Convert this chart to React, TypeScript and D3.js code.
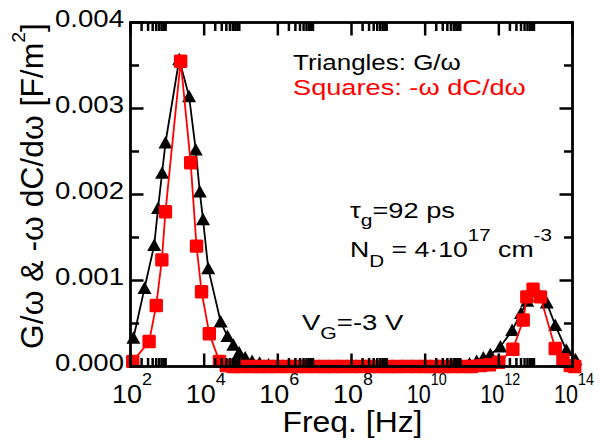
import React, { useRef, useState, useLayoutEffect } from "react";
import * as d3 from "d3";

// ---------- data ----------
// Triangles: G/ω  (frequency in Hz, value in F/m²)
const gFreq = [
  120, 240, 440, 560, 720, 890, 2100, 3900, 5900, 7600, 9300, 12900, 28000,
  43000, 62000, 89000, 1.3e5, 2.0e5, 3.2e5, 5.6e5, 1e6, 3e6, 1e7, 3e7, 1e8,
  3e8, 1e9, 3e9, 1e10, 3e10, 8e10, 1.6e11, 2.5e11, 3.8e11, 5.9e11, 1.1e12,
  2.3e12, 4e12, 5.9e12, 8.9e12, 1.3e13, 2e13, 3.4e13, 6.8e13, 1.2e14,
];
const gVal = [
  0.00033, 0.00091, 0.00141, 0.00184, 0.00225, 0.0026, 0.00357, 0.00314,
  0.00252, 0.00203, 0.00171, 0.00114, 0.00052, 0.00035, 0.00025, 0.00016,
  0.0001, 0.00006, 0.00004, 0.00002, 0.00001, 0, 0, 0, 0, 0, 0, 0, 0,
  0.00001, 0.00002, 0.00003, 0.00006, 0.0001, 0.00014, 0.00023, 0.00042,
  0.00062, 0.00076, 0.00088, 0.00082, 0.00074, 0.00048, 0.00019, 0.00008,
];

// Squares: -ω dC/dω
const cFreq = [
  115, 320, 500, 710, 890, 2300, 4300, 6200, 8500, 13800, 26000, 40000, 6e4,
  1e5, 1.8e5, 3.2e5, 5.6e5, 1e6, 1.8e6, 3.2e6, 5.6e6, 1e7, 1.8e7, 3.2e7,
  5.6e7, 1e8, 1.8e8, 3.2e8, 5.6e8, 1e9, 1.8e9, 3.2e9, 5.6e9, 1e10, 1.8e10,
  3.2e10, 5.6e10, 1e11, 1.8e11, 3.2e11, 5.6e11, 1e12, 2.4e12, 4.6e12,
  5.75e12, 8.5e12, 1.35e13, 3.4e13, 5.5e13, 8.7e13, 1.15e14,
];
const cVal = [
  0.00006, 0.00029, 0.00071, 0.00124, 0.0018, 0.00355, 0.00237, 0.0014,
  0.00087, 0.00038, 0.00006, 0.00001, 0, 0, 0, 0, 0, 0, 0, 0, 0, 0, 0, 0, 0,
  0, 0, 0, 0, 0, 0, 0, 0, 0, 0, 0, 0, 0, 0, 0.00001, 0.00002, 0.00005,
  0.0002, 0.00054, 0.00081, 0.0009, 0.00081, 0.00021, 0.00008, 0.00001, 0,
];

const xMajorExp = [2, 4, 6, 8, 10, 12, 14];
const yMajor = [0, 0.001, 0.002, 0.003, 0.004];
const yMajorLabels = ["0.000", "0.001", "0.002", "0.003", "0.004"];
const yMinor = [0.0005, 0.0015, 0.0025, 0.0035];

// ---------- layout ----------
const W = 600;
const H = 445;
const L = 130.5;
const R = 572.5;
const T = 22.5;
const B = 366.5;
const FONT = "'Liberation Sans', Arial, Helvetica, sans-serif";

function FitText({ x, y, rotate = 0, width, sx, anchor = "start", fontSize, fill = "#000", children }: any) {
  const ref = useRef<SVGTextElement>(null);
  const [s, setS] = useState(sx ?? 1);
  useLayoutEffect(() => {
    if (width && ref.current) {
      const w = ref.current.getBBox().width;
      if (w > 0) setS(width / w);
    }
  }, [width]);
  return (
    <g transform={`translate(${x},${y}) rotate(${rotate}) scale(${s},1)`}>
      <text ref={ref} textAnchor={anchor} fontSize={fontSize} fill={fill} fontFamily={FONT}>
        {children}
      </text>
    </g>
  );
}

export default function App() {
  const x = d3.scaleLog().domain([1e2, 1e14]).range([L, R]);
  const y = d3.scaleLinear().domain([0, 0.004]).range([B, T]);

  const gData = gFreq.map((f, i) => [f, gVal[i]] as [number, number]);
  const cData = cFreq.map((f, i) => [f, cVal[i]] as [number, number]);

  const line = d3
    .line<[number, number]>()
    .x((d) => x(d[0]))
    .y((d) => y(d[1]));

  const majorX = xMajorExp.map((e) => Math.pow(10, e));
  const minorX: number[] = [];
  majorX.slice(0, -1).forEach((m) => {
    for (let k = 2; k <= 9; k++) minorX.push(m * k);
  });

  const MAJ = 13;
  const MIN = 8.5;
  const tw = 2.5;

  const tri = (cx: number, cy: number) =>
    `M${cx},${cy - 6.8} L${cx + 7},${cy + 5.7} L${cx - 7},${cy + 5.7} Z`;

  return (
    <svg width={W} height={H} style={{ position: "absolute", left: 0, top: 0, background: "#fff" }}>
      <rect x={0} y={0} width={W} height={H} fill="#fff" />

      {/* Triangles series */}
      <path d={line(gData) || ""} fill="none" stroke="#000" strokeWidth={1.8} />
      {gData.map((d, i) => (
        <path key={"t" + i} d={tri(x(d[0]), y(d[1]))} fill="#000" />
      ))}

      {/* Squares series */}
      <path d={line(cData) || ""} fill="none" stroke="#ff0000" strokeWidth={1.8} />
      {cData.map((d, i) => (
        <rect
          key={"s" + i}
          x={x(d[0]) - 6.7}
          y={y(d[1]) - 6.7}
          width={13.4}
          height={13.4}
          rx={1.5}
          fill="#ff0000"
        />
      ))}

      {/* frame */}
      <rect x={L} y={T} width={R - L} height={B - T} fill="none" stroke="#000" strokeWidth={2.8} />

      {/* x ticks */}
      {majorX.map((v, i) => (
        <g key={"xm" + i} stroke="#000" strokeWidth={tw}>
          <line x1={x(v)} x2={x(v)} y1={B} y2={B - MAJ} />
          <line x1={x(v)} x2={x(v)} y1={T} y2={T + MAJ} />
        </g>
      ))}
      {minorX.map((v, i) => (
        <g key={"xn" + i} stroke="#000" strokeWidth={tw}>
          <line x1={x(v)} x2={x(v)} y1={B} y2={B - MIN} />
          <line x1={x(v)} x2={x(v)} y1={T} y2={T + MIN} />
        </g>
      ))}
      {/* y ticks */}
      {yMajor.map((v, i) => (
        <g key={"ym" + i} stroke="#000" strokeWidth={tw}>
          <line x1={L} x2={L + MAJ} y1={y(v)} y2={y(v)} />
          <line x1={R} x2={R - MAJ} y1={y(v)} y2={y(v)} />
        </g>
      ))}
      {yMinor.map((v, i) => (
        <g key={"yn" + i} stroke="#000" strokeWidth={tw}>
          <line x1={L} x2={L + MIN} y1={y(v)} y2={y(v)} />
          <line x1={R} x2={R - MIN} y1={y(v)} y2={y(v)} />
        </g>
      ))}

      {/* y tick labels */}
      {yMajor.map((v, i) => (
        <FitText key={"yl" + i} x={124} y={y(v) + 4.5} anchor="end" width={69} fontSize={23.5}>
          {yMajorLabels[i]}
        </FitText>
      ))}

      {/* x tick labels */}
      {xMajorExp.map((e, i) => (
        <FitText key={"xl" + i} x={x(Math.pow(10, e)) + 1.5} y={403} anchor="middle" width={40} fontSize={25.5}>
          10
          <tspan fontSize={17} dy={-18}>
            {e}
          </tspan>
        </FitText>
      ))}

      {/* axis titles */}
      <FitText x={352.5} y={431.5} anchor="middle" width={140} fontSize={29}>
        Freq. [Hz]
      </FitText>
      <FitText x={42.5} y={186} rotate={-90} anchor="middle" width={326} fontSize={31}>
        G/ω &amp; -ω dC/dω [F/m
        <tspan fontSize={19} dy={-18}>
          2
        </tspan>
        <tspan dy={18}>]</tspan>
      </FitText>

      {/* annotations */}
      <FitText x={293} y={70} width={168} fontSize={22}>
        Triangles: G/ω
      </FitText>
      <FitText x={293} y={95} width={233} fontSize={22} fill="#ff0000">
        Squares: -ω dC/dω
      </FitText>
      <FitText x={350} y={218} width={105} fontSize={22}>
        τ
        <tspan fontSize={17} dy={8}>
          g
        </tspan>
        <tspan dy={-8}>=92 ps</tspan>
      </FitText>
      <FitText x={350} y={257} width={202} fontSize={22}>
        N
        <tspan fontSize={17} dy={10}>
          D
        </tspan>
        <tspan dy={-10}> = 4·10</tspan>
        <tspan fontSize={17} dy={-16}>
          17
        </tspan>
        <tspan dy={16}> cm</tspan>
        <tspan fontSize={17} dy={-16}>
          -3
        </tspan>
      </FitText>
      <FitText x={302} y={330} sx={1.25} fontSize={22}>
        V
        <tspan fontSize={17} dy={9}>
          G
        </tspan>
        <tspan dy={-9}>=-3 V</tspan>
      </FitText>
    </svg>
  );
}
